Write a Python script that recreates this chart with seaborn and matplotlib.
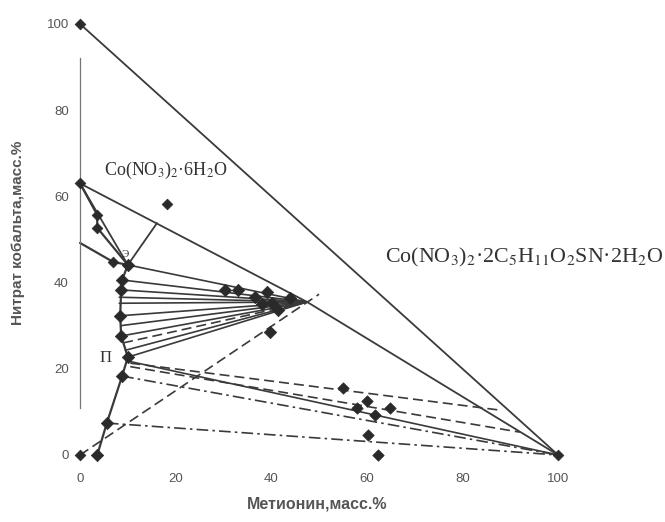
import matplotlib
matplotlib.use("Agg")
import matplotlib.pyplot as plt
import pandas as pd
import seaborn as sns

# Compositions in mass %: x = methionine, y = cobalt nitrate
water = (0, 0)
cobalt_nitrate = (0, 100)
methionine = (100, 0)
hexahydrate = (0, 63)
compound = (47.5, 35.5)
eutonic = (10.0, 44.1)
peritonic = (10.0, 21.8)

# Liquidus branch of Co(NO3)2*6H2O
hexa_branch_x = [0, 3.6, 3.6, 10.0]
hexa_branch_y = [63, 55.7, 52.7, 44.1]
# Metastable continuation from the water side
meta_branch_x = [0, 6.9, 10.0]
meta_branch_y = [49.2, 44.8, 44.1]
# Liquidus branch of the compound and of methionine
comp_branch_x = [10.0, 8.8, 8.6, 8.4, 8.6, 10.0, 8.8, 5.6, 3.6]
comp_branch_y = [44.1, 40.6, 38.3, 32.3, 27.6, 22.7, 18.3, 7.4, 0]

# Liquid points joined to the compound
ray_x = [10.0, 8.8, 8.6, 8.2, 8.2, 8.4, 8.5, 8.6, 9.0, 9.5, 10.0]
ray_y = [44.1, 40.6, 38.3, 36.6, 35.2, 32.3, 30.0, 27.6, 26.0, 24.3, 22.7]
ray_style = ["-", "-", "-", "-", "-", "-", "-", "-", "--", "-", "-"]
# Wet residues of the compound field
residue_x = [30.3, 33.1, 39.1, 36.6, 40.2, 41.4, 43.9, 38.0, 39.7]
residue_y = [38.3, 38.3, 37.8, 36.7, 35.3, 33.6, 36.4, 35.0, 28.5]

# Methionine field: liquid start, end of tie line, style
tie_start_x = [10.0, 10.5, 10.5, 8.8, 5.6]
tie_start_y = [21.8, 21.3, 20.5, 18.3, 7.4]
tie_end_x = [100, 87.9, 92.0, 100, 100]
tie_end_y = [0, 10.4, 5.3, 0, 0]
tie_style = ["-", "--", "--", "-.", "-."]
# Wet residues of the methionine field
low_x = [55.0, 60.0, 58.0, 64.9, 61.7, 60.3, 62.3]
low_y = [15.5, 12.5, 10.9, 10.9, 9.3, 4.6, 0]

# Other points
extra_x = [18.2, 16.1]
extra_y = [58.2, 53.8]

x_ticks = [0, 20, 40, 60, 80, 100]
y_ticks = [0, 20, 40, 60, 80, 100]

sns.set_theme(style="white")
plt.rcParams["font.family"] = ["Liberation Sans", "DejaVu Sans"]
plt.rcParams["mathtext.fontset"] = "stix"

LINE = "#3a3a3a"
DOT = "#2a2a2a"

fig = plt.figure(figsize=(6.65, 5.22), dpi=100)
ax = fig.add_axes([0.0988, 0.1036, 0.762, 0.8753])


def seg(xs, ys, style="-", lw=1.3, color=LINE):
    df = pd.DataFrame({"x": xs, "y": ys})
    dashes = {"-": "", "--": (6, 3), "-.": (7, 2.5, 1.5, 2.5)}[style]
    l = sns.lineplot(data=df, x="x", y="y", sort=False, estimator=None,
                     ax=ax, color=color, lw=lw, legend=False)
    line = l.lines[-1]
    if dashes:
        line.set_dashes(dashes)
    line.set_clip_on(False)


def dots(xs, ys, s=30, marker="D"):
    sc = sns.scatterplot(x=xs, y=ys, ax=ax, color=DOT, s=s, marker=marker,
                         edgecolor=DOT, linewidth=0.5, legend=False, zorder=5)
    for c in sc.collections:
        c.set_clip_on(False)


# Triangle sides and tie lines of the hydrate
seg([cobalt_nitrate[0], methionine[0]], [cobalt_nitrate[1], methionine[1]])
seg([hexahydrate[0], compound[0], methionine[0]],
    [hexahydrate[1], compound[1], methionine[1]])
seg([hexahydrate[0], eutonic[0]], [hexahydrate[1], eutonic[1]])
seg([eutonic[0], extra_x[1]], [eutonic[1], extra_y[1]])

# Liquidus curves
seg(hexa_branch_x, hexa_branch_y, lw=1.6)
seg(meta_branch_x, meta_branch_y, lw=1.6)
seg(comp_branch_x, comp_branch_y, lw=1.6)

# Rays to the compound
for x0, y0, st in zip(ray_x, ray_y, ray_style):
    seg([x0, compound[0]], [y0, compound[1]], style=st, lw=1.2)

# Water - compound section
seg([water[0], 50.0], [water[1], 37.3], style="--", lw=1.2)

# Tie lines in the methionine field
for x0, y0, x1, y1, st in zip(tie_start_x, tie_start_y, tie_end_x, tie_end_y, tie_style):
    seg([x0, x1], [y0, y1], style=st, lw=1.2)

# Points
dots([cobalt_nitrate[0], methionine[0], hexahydrate[0], water[0]],
     [cobalt_nitrate[1], methionine[1], hexahydrate[1], water[1]])
dots(hexa_branch_x[1:], hexa_branch_y[1:])
dots(meta_branch_x[1:2], meta_branch_y[1:2])
dots(comp_branch_x, comp_branch_y, s=40)
dots(residue_x, residue_y, s=40)
dots(low_x, low_y, s=34)
dots(extra_x[:1], extra_y[:1])

# Labels of the solid phases and invariant points
ax.text(5, 66, r"Co(NO$_3$)$_2$·6H$_2$O", fontsize=13, color="#333",
        family="Liberation Serif", va="center", ha="left")
ax.text(63.8, 45.8, r"Co(NO$_3$)$_2$·2C$_5$H$_{11}$O$_2$SN·2H$_2$O", fontsize=15.8,
        color="#333", family="Liberation Serif", va="center", ha="left")
ax.text(5.3, 22.6, "П", fontsize=12, color="#333", family="Liberation Serif",
        va="center", ha="center")
ax.text(9.4, 46.4, "Э", fontsize=8, color="#333", family="Liberation Serif",
        va="center", ha="center")

ax.set_xlim(-3, 103)
ax.set_ylim(-3, 103)
ax.set_xticks(x_ticks)
ax.set_yticks(y_ticks)
ax.tick_params(axis="both", labelsize=9.5, colors="#555", length=0)
ax.tick_params(axis="y", pad=8)
ax.tick_params(axis="x", pad=4)
for lab in ax.get_xticklabels() + ax.get_yticklabels():
    lab.set_color("#555")

for side in ["top", "right", "bottom"]:
    ax.spines[side].set_visible(False)
ax.spines["left"].set_position(("data", 0))
ax.spines["left"].set_bounds(11, 92)
ax.spines["left"].set_color("#777")
ax.spines["left"].set_linewidth(0.9)

ax.set_xlabel("Метионин,масс.%", fontsize=11.5, color="#555", fontweight="bold")
ax.set_ylabel("Нитрат кобальта,масс.%", fontsize=11, color="#555", fontweight="bold")
ax.xaxis.set_label_coords(0.496, -0.062)
ax.yaxis.set_label_coords(-0.080, 0.514)
ax.grid(False)

fig.savefig("out.png", dpi=100, facecolor="white")
